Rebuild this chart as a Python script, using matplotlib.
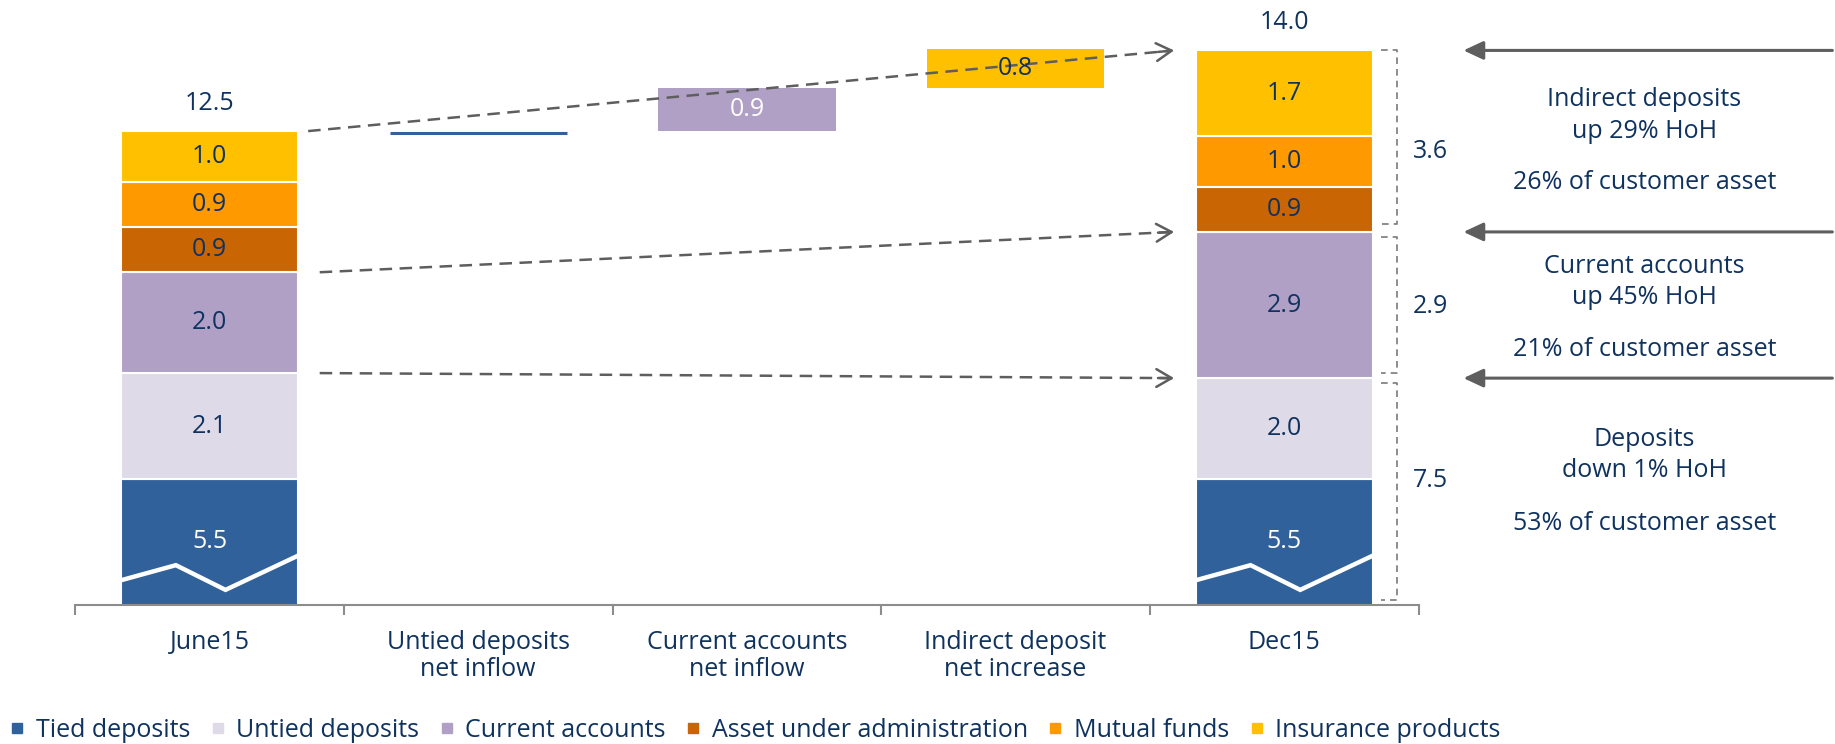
import matplotlib
matplotlib.use("Agg")
import matplotlib.pyplot as plt
from matplotlib.lines import Line2D

plt.rcParams['font.family'] = ['Open Sans', 'DejaVu Sans']
plt.rcParams['font.size'] = 18

# ---------------- data ----------------
categories = ["June15", "Untied deposits\nnet inflow", "Current accounts\nnet inflow",
              "Indirect deposit\nnet increase", "Dec15"]
series = ["Tied deposits", "Untied deposits", "Current accounts",
          "Asset under administration", "Mutual funds", "Insurance products"]
june15 = [5.5, 2.1, 2.0, 0.9, 0.9, 1.0]
dec15 = [5.5, 2.0, 2.9, 0.9, 1.0, 1.7]
totals = [12.5, 14.0]
untied_net = 0.0
current_net = 0.86
indirect_net = 0.76
group_names = ["Indirect deposits", "Current accounts", "Deposits"]
group_values = [3.6, 2.9, 7.5]
group_change = ["up 29% HoH", "up 45% HoH", "down 1% HoH"]
group_share = ["26% of customer asset", "21% of customer asset", "53% of customer asset"]

colors = ["#31619A", "#DFDAE8", "#B0A0C6", "#C96502", "#FF9900", "#FFC000"]
NAVY = "#0F325F"
GRAY = "#5E5E5E"
W = 0.66
YMIN, YMAX = 3.0, 15.0

fig = plt.figure(figsize=(18.35, 7.44), dpi=100)
ax = fig.add_axes([75.2 / 1835, 139 / 744, 1343.4 / 1835, 605 / 744])
ax.set_xlim(-0.5, 4.5)
ax.set_ylim(YMIN, YMAX)

# ---------------- stacked bars ----------------
for xpos, stack in ((0, june15), (4, dec15)):
    bottom = 0.0
    for i, v in enumerate(stack):
        ax.bar(xpos, v, bottom=bottom, width=W, color=colors[i],
               edgecolor="white", linewidth=1.5)
        lo = max(bottom, YMIN)
        yc = (lo + bottom + v) / 2
        ax.text(xpos, yc, f"{v:.1f}", ha="center", va="center",
                color="white" if i == 0 else NAVY, fontsize=18)
        bottom += v
    # broken-axis zigzag on the tied deposits block
    zx = [xpos - W / 2, xpos - W / 2 + 0.31 * W, xpos - W / 2 + 0.59 * W, xpos + W / 2]
    zy = [3.49, 3.79, 3.30, 3.98]
    ax.plot(zx, zy, color="white", lw=3.2, solid_joinstyle="miter")

june_top = sum(june15)
dec_top = sum(dec15)
for xpos, top, t in ((0, june_top, totals[0]), (4, dec_top, totals[1])):
    ax.annotate(f"{t:.1f}", xy=(xpos, top), xytext=(0, 20), textcoords="offset points",
                ha="center", va="center", color=NAVY, fontsize=18)

# ---------------- waterfall steps ----------------
level = june_top
ax.plot([1 - W / 2, 1 + W / 2], [level + untied_net - 0.03] * 2, color=colors[0], lw=2.2,
        solid_capstyle="butt")
level += untied_net
ax.bar(2, current_net, bottom=level, width=W, color=colors[2], edgecolor="none")
ax.text(2, level + current_net / 2, f"{current_net:.1f}", ha="center", va="center",
        color="white", fontsize=18)
level += current_net
ax.bar(3, indirect_net, bottom=level, width=W, color=colors[5], edgecolor="none")
ax.text(3, level + indirect_net / 2, f"{indirect_net:.1f}", ha="center", va="center",
        color=NAVY, fontsize=18)


# ---------------- dashed connector arrows ----------------
def dashed_arrow(x0, y0, x1, y1):
    ax.plot([x0, x1 - 0.01], [y0, y1 - (y1 - y0) * 0.01 / (x1 - x0)], ls=(0, (5, 3)),
            color=GRAY, lw=1.8, clip_on=False)
    dx = 0.06
    ax.annotate("", xy=(x1, y1), xytext=(x1 - dx, y1 - (y1 - y0) * dx / (x1 - x0)),
                arrowprops=dict(arrowstyle="->,head_length=0.55,head_width=0.32",
                                color=GRAY, lw=1.8, shrinkA=0, shrinkB=0,
                                mutation_scale=20),
                annotation_clip=False)


b_june = [sum(june15[:k]) for k in range(len(june15) + 1)]
b_dec = [sum(dec15[:k]) for k in range(len(dec15) + 1)]
dashed_arrow(0.367, b_june[6], 3.59, b_dec[6])
dashed_arrow(0.41, b_june[3], 3.59, b_dec[3])
dashed_arrow(0.41, b_june[2], 3.59, b_dec[2])

# ---------------- brackets and group labels ----------------
spans = [(b_dec[6], b_dec[3] + 0.15), (b_dec[3] - 0.1, b_dec[2] + 0.1), (b_dec[2] - 0.1, 3.1)]
label_y = [12.0, 8.92, 5.46]
for (top, bot), gv, ly in zip(spans, group_values, label_y):
    ax.plot([4.36, 4.418, 4.418, 4.36], [top, top, bot, bot], ls=(0, (4, 3)),
            color="#7A7A7A", lw=1.2, clip_on=False)
    ax.text(4.48, ly, f"{gv:.1f}", ha="left", va="center",
            color=NAVY, fontsize=18, clip_on=False)

# ---------------- right-side arrows and commentary ----------------
for yv in (b_dec[6], b_dec[3], b_dec[2]):
    ax.annotate("", xy=(4.667, yv), xytext=(6.04, yv),
                arrowprops=dict(arrowstyle="-|>,head_length=0.6,head_width=0.28",
                                color=GRAY, lw=2.2, shrinkA=0, shrinkB=0,
                                mutation_scale=20),
                annotation_clip=False)

text_y = [(13.02, 12.40, 11.38), (9.71, 9.09, 8.07), (6.29, 5.67, 4.62)]
for (y1, y2, y3), n, c, s in zip(text_y, group_names, group_change, group_share):
    for yy, tt in ((y1, n), (y2, c), (y3, s)):
        ax.text(5.34, yy, tt, ha="center", va="center", color=NAVY, fontsize=18,
                clip_on=False)

# ---------------- axes styling ----------------
for sp in ("top", "right", "left"):
    ax.spines[sp].set_visible(False)
ax.spines["bottom"].set_color("#8C8C8C")
ax.spines["bottom"].set_linewidth(1.5)
ax.set_yticks([])
ax.set_xticks(range(len(categories)))
ax.set_xticklabels(categories, color=NAVY, fontsize=18, linespacing=1.1)
ax.tick_params(axis="x", which="major", length=0, pad=18)
ax.set_xticks([i - 0.5 for i in range(len(categories) + 1)], minor=True)
ax.tick_params(axis="x", which="minor", length=7, width=1.5, color="#8C8C8C",
               direction="out")

# ---------------- legend ----------------
handles = [Line2D([], [], marker="s", ls="", color=c, markersize=7.5) for c in colors]
leg = fig.legend(handles, series, loc="lower left", bbox_to_anchor=(0.004, 0.002),
                 ncol=6, frameon=False, borderpad=0, borderaxespad=0,
                 handlelength=0.8, handletextpad=0.34, columnspacing=0.7,
                 fontsize=18)
for t in leg.get_texts():
    t.set_color(NAVY)

fig.savefig("out.png", dpi=100)
